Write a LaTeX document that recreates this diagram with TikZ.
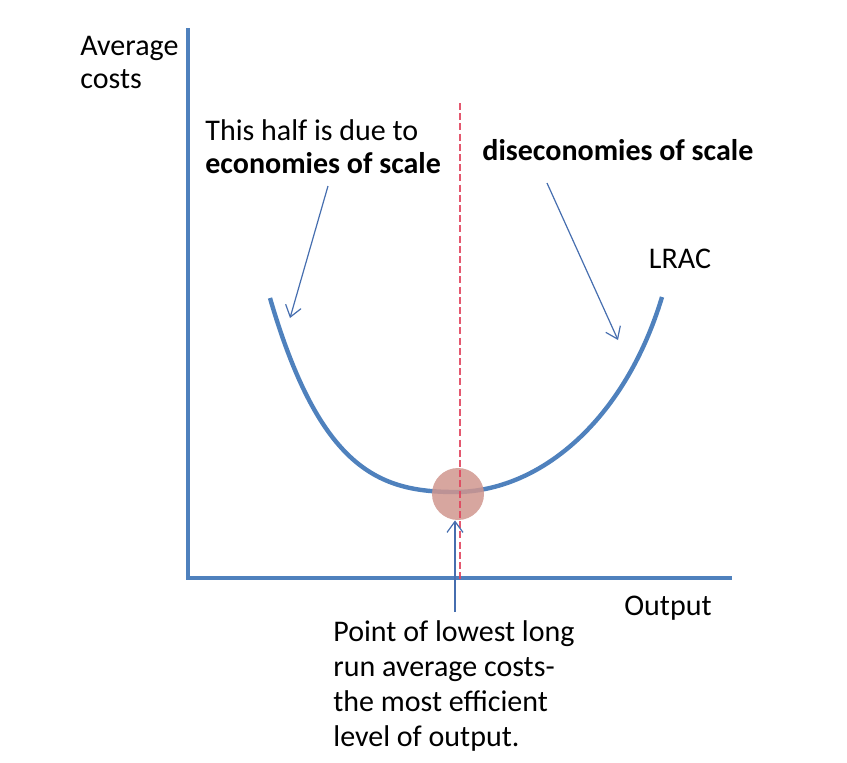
\documentclass[tikz,border=0pt]{standalone}
\usepackage{fontspec}
\setmainfont{Carlito}
\usetikzlibrary{arrows.meta}
\definecolor{axisblue}{RGB}{79,129,189}
\definecolor{arrowblue}{RGB}{70,110,175}
\definecolor{dashred}{RGB}{225,70,95}
\definecolor{dotfill}{RGB}{208,150,142}
\tikzset{
  axis/.style={draw=axisblue, line width=2pt},
  curve/.style={draw=axisblue, line width=2.2pt},
  pointer/.style={draw=arrowblue, line width=0.6pt, -{Straight Barb[length=5.5pt,width=8pt]}},
  lbl/.style={inner sep=0pt, font=\fontsize{15}{16.5}\selectfont, align=left},
}
\begin{document}
\begin{tikzpicture}[x=0.5pt,y=-0.5pt]
\useasboundingbox (0,0) rectangle (847,762);
% axes
\coordinate (ytop) at (188,28);
\coordinate (origin) at (188,578);
\coordinate (xend) at (732,578);
\draw[axis] (ytop) -- (origin) -- (xend);
% curve
\coordinate (cl) at (270,298);
\coordinate (cm) at (455,492);
\coordinate (cr) at (662,297);
\draw[curve] (cl) .. controls (320,470) and (380,492) .. (cm) .. controls (540,492) and (625,420) .. (cr);
% point
\node[circle, fill=dotfill, fill opacity=0.85, minimum size=26pt, inner sep=0pt] (pt) at (458,494) {};
% dashed
\coordinate (dtop) at (460,103);
\coordinate (dbot) at (460,580);
\draw[dashred, line width=0.7pt, dash pattern=on 3.5pt off 1.6pt, draw opacity=0.9] (dtop) -- (dbot);
% labels
\node[lbl, anchor=base west] (ylab) at (80,88) {Average\\costs};
\node[lbl, anchor=base west] (eos) at (205,173) {This half is due to\\\textbf{economies of scale}};
\node[lbl, anchor=base west] (dis) at (482,160) {\textbf{diseconomies of scale}};
\node[lbl, anchor=base] (lrac) at (680,268) {LRAC};
\node[lbl, anchor=base] (xlab) at (668,615) {Output};
\node[lbl, anchor=base west, font=\fontsize{15}{17.5}\selectfont] (ptlab) at (333,746) {Point of lowest long\\run average costs-\\the most efficient\\level of output.};
% pointers
\coordinate (a1s) at (328,186);
\coordinate (a1e) at (290,318);
\coordinate (a2s) at (547,183);
\coordinate (a2e) at (618,340);
\coordinate (a3s) at (455,612);
\draw[pointer] (a1s) -- (a1e);
\draw[pointer] (a2s) -- (a2e);
\draw[pointer] (a3s) -- (pt.south -| a3s);
\end{tikzpicture}
\end{document}
